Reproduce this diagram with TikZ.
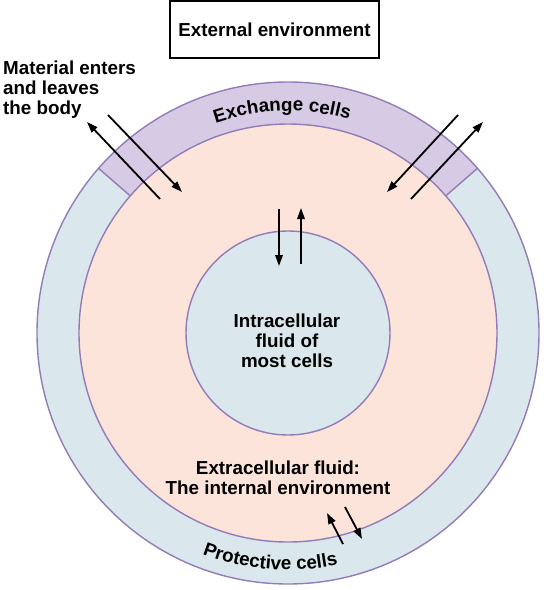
\documentclass[tikz,border=0pt]{standalone}
\usepackage{fontspec}
\setmainfont{Liberation Sans}
\usetikzlibrary{arrows.meta,decorations.text,calc}
\definecolor{pinkf}{RGB}{253,228,218}
\definecolor{bluef}{RGB}{218,232,237}
\definecolor{lavf}{RGB}{215,202,228}
\definecolor{edgec}{RGB}{146,124,184}
\newcommand{\lblfont}{\fontsize{18.8}{20}\selectfont\bfseries}
\begin{document}
\begin{tikzpicture}[x=1pt,y=-1pt,
  lbl/.style={font=\lblfont, align=center, inner sep=0pt},
  arr/.style={-{Triangle[length=11pt,width=7.5pt]}, line width=1.8pt},
  ring/.style={draw=edgec, line width=1.4pt}]
\useasboundingbox (0,0) rectangle (544,590);
\coordinate (c) at (288,333);
% fills
\fill[bluef] (c) circle (251);
\fill[lavf] (c) -- ($(c)+(-139:251)$) arc[start angle=-139,end angle=-41,radius=251] -- cycle;
\fill[pinkf] (c) circle (209);
\fill[bluef] (c) circle (102);
% outlines
\draw[ring] (c) circle (251);
\draw[ring] (c) circle (209);
\draw[ring] (c) circle (102);
\draw[ring] ($(c)+(-139:209)$) -- ($(c)+(-139:251)$);
\draw[ring] ($(c)+(-41:209)$) -- ($(c)+(-41:251)$);
% curved labels
\path[decorate, decoration={text along path, text={|\lblfont|Exchange cells}, text align=center}]
  ($(c)+(-140.5:222)$) arc[start angle=-140.5,end angle=-42.5,radius=222];
\path[decorate, decoration={text along path, text={|\lblfont|Protective cells}, text align=center}]
  ($(c)+(135:237)$) arc[start angle=135,end angle=54,radius=237];
% text nodes
\node[draw, line width=1.2pt, minimum width=209pt, minimum height=57pt, inner sep=0pt,
      font=\lblfont] (ext) at (274.5,29.5) {External environment};
\node[lbl, align=left, anchor=north west] (mat) at (3,60.8) {Material enters\\and leaves\\the body};
\node[lbl, anchor=north] (icf) at (287,313.8) {Intracellular\\fluid of\\most cells};
\node[lbl, anchor=north] (ecf) at (278,461) {Extracellular fluid:\\The internal environment};
% arrows
\coordinate (a1s) at (160,199); \coordinate (a1e) at (87,122);
\coordinate (a2s) at (108,115); \coordinate (a2e) at (182,192);
\coordinate (a3s) at (458,115); \coordinate (a3e) at (387,192);
\coordinate (a4s) at (411,199); \coordinate (a4e) at (483,122);
\coordinate (a5s) at (279,209); \coordinate (a5e) at (279,266);
\coordinate (a6s) at (301,264); \coordinate (a6e) at (301,208);
\coordinate (a7s) at (343,544); \coordinate (a7e) at (327,513);
\coordinate (a8s) at (345,507); \coordinate (a8e) at (362,539);
\foreach \i in {1,...,8} \draw[arr] (a\i s) -- (a\i e);
\end{tikzpicture}
\end{document}
